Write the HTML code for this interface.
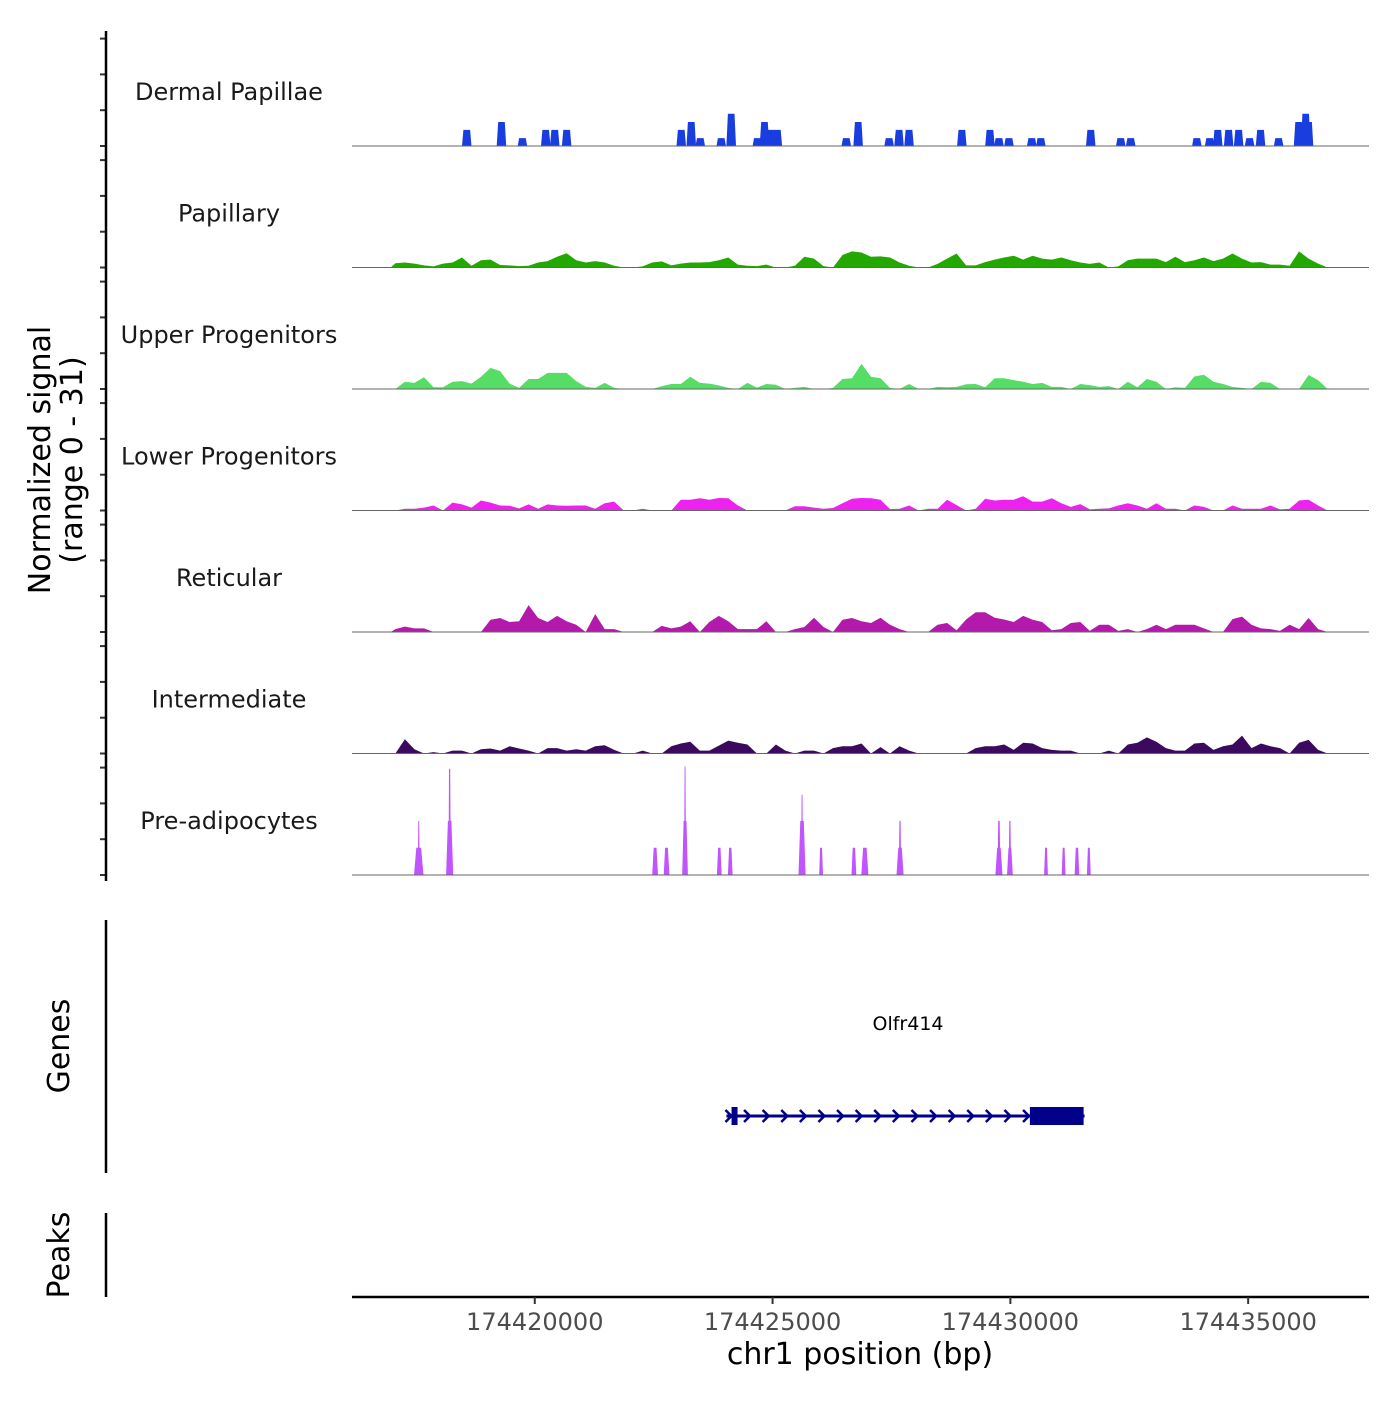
<!DOCTYPE html>
<html><head><meta charset="utf-8"><style>
body{margin:0;background:#fff}
svg text{font-family:"DejaVu Sans","Liberation Sans",sans-serif}
</style></head><body>
<svg id="chart" xmlns="http://www.w3.org/2000/svg" width="1400" height="1400" viewBox="0 0 1400 1400">
<g id="tracks"></g>
<g id="yaxis"></g>
<text transform="translate(50,460) rotate(-90)" text-anchor="middle" font-size="30" fill="#000">Normalized signal</text>
<text transform="translate(82,460) rotate(-90)" text-anchor="middle" font-size="30" fill="#000">(range 0 - 31)</text>
<line x1="106" y1="920" x2="106" y2="1173" stroke="#000" stroke-width="2.5"/>
<text transform="translate(69,1046) rotate(-90)" text-anchor="middle" font-size="30">Genes</text>
<g id="gene"></g>
<text x="908" y="1030" text-anchor="middle" font-size="19">Olfr414</text>
<line x1="106" y1="1213" x2="106" y2="1297" stroke="#000" stroke-width="2.5"/>
<text transform="translate(69,1255) rotate(-90)" text-anchor="middle" font-size="30">Peaks</text>
<line x1="352" y1="1297" x2="1369" y2="1297" stroke="#000" stroke-width="2.5"/>
<g id="xaxis"></g>
<text x="860" y="1364" text-anchor="middle" font-size="30">chr1 position (bp)</text>
</svg>
<script>
const trackNames=["Dermal Papillae","Papillary","Upper Progenitors","Lower Progenitors","Reticular","Intermediate","Pre-adipocytes"];
const trackColors=["#1a3de0","#22a800","#55dd66","#ee22ee","#b31aab","#3b0a5e","#c055ff"];
const binStartKb=174417.07, binStepKb=0.2;
const papillary=[1.2,1.4,1.1,0.6,0.3,1.1,1.4,2.8,0.5,2.0,2.2,0.7,0.6,0.4,0.5,1.4,1.8,3.0,4.0,2.0,1.4,1.8,1.4,0.5,0,0,0.3,1.4,1.7,0.6,1.1,1.4,1.4,1.5,2.0,2.8,0.8,0.5,0.4,0.8,0,0,0.5,3.0,2.5,0.4,0,3.5,4.5,4.2,3.0,3.1,2.8,1.4,0.5,0,0,1.0,2.5,3.9,0.6,0.6,1.5,2.2,2.8,3.3,2.2,3.3,2.5,2.2,2.8,2.0,1.4,1.0,1.4,0,0.3,2.0,2.5,2.5,2.5,1.5,3.0,1.5,2.0,2.8,1.8,2.5,3.9,2.5,1.4,1.5,0.8,0.8,0.5,4.5,2.5,1.1,0];
const upperProg=[0,2.0,1.7,3.3,0.5,0.5,2.0,2.2,1.5,3.4,5.9,5.0,1.5,0.3,2.8,2.8,4.5,4.5,4.5,2.2,0.6,0.3,1.7,0.3,0,0,0,0,0.8,1.4,1.4,3.4,1.7,1.5,1.0,0.3,0,1.7,0.4,1.4,1.2,0,0.3,0.6,0,0,0.3,2.8,3.0,7.0,3.4,3.0,0.3,0,1.4,0,0,0.6,0.5,0.6,1.3,1.4,0.5,3.0,3.0,2.5,2.0,1.4,1.7,0.6,0.6,0,1.4,1.1,0.6,0.8,0,2.0,0.5,2.8,2.0,0,0.5,0.3,3.5,4.0,2.0,1.4,0.6,0.3,0,2.0,1.7,0,0,0,3.9,2.5,0];
const lowerProg=[0,0.5,0.5,0.8,1.4,0,2.2,1.7,0.8,2.8,2.2,1.4,1.3,0.6,1.7,0.5,1.7,1.4,1.3,1.4,1.4,0.5,2.0,2.5,0,0,0.5,0,0,0,3.0,3.0,3.4,3.0,3.5,3.4,1.4,0,0,0,0,0,1.2,1.2,0.8,0.5,0.7,2.0,3.3,3.5,3.4,3.0,0.4,0.5,1.4,0,0.5,0.5,3.0,1.5,0,0.5,3.3,2.8,3.0,3.0,4.0,2.5,2.5,3.4,2.0,1.0,1.8,0.3,0.5,0.6,1.4,2.0,1.4,0.5,2.0,0.5,0.5,0,1.4,1.0,0,0,1.4,0.5,0.5,0.5,1.4,0.3,0.5,2.8,3.0,1.4,0];
const reticular=[0.8,1.5,1.0,1.0,0,0,0,0,0,0,3.4,3.9,2.8,3.0,7.5,3.9,2.8,4.5,3.0,2.0,0,5.0,0.8,0.8,0,0,0,0,1.7,1.0,1.5,3.0,0,2.8,4.5,3.0,0.8,0.8,0.8,3.0,0,0,0.8,1.4,4.0,1.4,0,3.4,3.9,3.0,2.5,4.0,2.0,0.8,0,0,0,2.0,2.5,0.5,3.5,5.5,5.5,4.0,3.5,2.8,4.5,3.4,2.8,0.5,0.8,2.5,2.8,0.3,2.0,2.0,0.3,0.8,0,0.8,2.0,0.8,2.0,2.0,2.0,1.0,0,0,3.6,4.3,2.0,1.0,0.8,0.3,2.0,0.8,3.9,0.8,0];
const intermediate=[0,4.0,1.2,0,0.4,0,0.8,0.8,0,1.2,1.4,0.8,2.0,1.4,0.8,0,1.5,1.5,0.8,1.2,0.8,2.0,2.3,1.0,0,0,0.8,0,0,2.0,2.8,3.3,0.8,0.8,2.2,3.6,3.0,2.5,0,0,2.5,0.8,0,0.8,0.8,0,1.5,2.0,2.0,2.8,0,1.8,0,2.0,0.8,0,0,0,0,0,0,1.5,2.0,2.0,2.5,1.0,3.0,2.8,1.5,1.0,0.8,0.8,0,0,0,0.8,0,2.5,3.0,4.5,3.3,1.5,0.8,0.8,2.8,3.0,1.0,2.0,2.5,5.0,1.5,2.8,2.0,1.5,0,3.0,3.8,1.0,0];
const dermalPos=[174418.57,174419.30,174419.74,174420.23,174420.42,174420.67,174423.08,174423.29,174423.48,174423.92,174424.13,174424.68,174424.83,174424.97,174425.10,174426.55,174426.80,174427.45,174427.66,174427.87,174428.98,174429.57,174429.76,174429.97,174430.45,174430.64,174431.69,174432.32,174432.53,174433.92,174434.19,174434.36,174434.59,174434.80,174435.03,174435.26,174435.64,174436.06,174436.21,174436.27];
const dermalVal=[4.5,6.7,2.2,4.5,4.5,4.5,4.5,6.7,2.2,2.2,9.0,2.2,6.7,4.5,4.5,2.2,6.7,2.2,4.5,4.5,4.5,4.5,2.2,2.2,2.2,2.2,4.5,2.2,2.2,2.2,2.2,4.5,4.5,4.5,2.2,4.5,2.2,6.7,9.0,6.7];
const preadipoPos=[174417.56,174417.56,174418.21,174418.21,174422.53,174422.77,174423.16,174423.16,174423.88,174424.11,174425.62,174425.62,174426.02,174426.71,174426.94,174427.68,174427.68,174429.76,174429.76,174429.99,174429.99,174430.75,174431.12,174431.40,174431.65];
const preadipoVal=[7.6,15.1,15.1,29.7,7.6,7.6,15.1,30.3,7.6,7.6,15.1,22.4,7.6,7.6,7.6,7.6,15.1,7.6,15.1,7.6,15.1,7.6,7.6,7.6,7.6];
const preadipoWidth=[0.2,0.04,0.15,0.05,0.12,0.12,0.12,0.04,0.1,0.1,0.15,0.04,0.08,0.1,0.15,0.15,0.05,0.15,0.06,0.12,0.05,0.08,0.08,0.1,0.08];
const xTicks=[174420000,174425000,174430000,174435000];
const yTickVals=[0,10,20,30];

const NS="http://www.w3.org/2000/svg";
const X0=352,X1=1369,KB0=174416.157,PXKB=237.8/5;
function xs(kb){return X0+(kb-KB0)*PXKB;}
const PXU=3.58;
function base(t){return 146+t*121.5;}
function ys(t,v){return base(t)-v*PXU;}
function mk(tag,attrs,parent){const e=document.createElementNS(NS,tag);for(const k in attrs)e.setAttribute(k,attrs[k]);parent.appendChild(e);return e;}
const G=document.getElementById('tracks'),YA=document.getElementById('yaxis');
const binTracks={1:papillary,2:upperProg,3:lowerProg,4:reticular,5:intermediate};
for(let t=0;t<7;t++){
  const lab=mk('text',{x:229,y:base(t)-46,'text-anchor':'middle','font-size':24,fill:'#1a1a1a'},G);
  lab.textContent=trackNames[t];
  
  
  if(binTracks[t]){
    const vals=binTracks[t];
    let d='M'+xs(binStartKb-binStepKb/2).toFixed(1)+','+base(t);
    vals.forEach((v,i)=>{const kb=binStartKb+i*binStepKb;d+=' L'+xs(kb).toFixed(1)+','+ys(t,v).toFixed(1);});
    d+=' L'+xs(binStartKb+vals.length*binStepKb).toFixed(1)+','+base(t)+' Z';
    const p=mk('path',{d:d,fill:trackColors[t]},G);
    
    
  } else {
    const pos=t===0?dermalPos:preadipoPos, val=t===0?dermalVal:preadipoVal;
    pos.forEach((kb,i)=>{
      const w=(t===0?0.2:preadipoWidth[i])*PXKB, cx=xs(kb), y=ys(t,val[i]), b=base(t);
      const f=t===0?0.35:0.25;
      const pts=[[cx-w/2,b],[cx-w*f,y],[cx+w*f,y],[cx+w/2,b]].map(q=>q[0].toFixed(1)+','+q[1].toFixed(1)).join(' ');
      const p=mk('polygon',{points:pts,fill:trackColors[t]},G);
      
      
    });
  }
  const bl=mk('line',{x1:X0,x2:X1,y1:base(t),y2:base(t),stroke:'#666','stroke-width':1},G);
  
  
  yTickVals.forEach(v=>{
    const tk=mk('line',{x1:100,x2:106,y1:ys(t,v),y2:ys(t,v),stroke:'#333','stroke-width':2},YA);
    
    
  });
}
const ax=mk('line',{x1:106,x2:106,y1:31,y2:881,stroke:'#000','stroke-width':2.5},YA);


const XA=document.getElementById('xaxis');
xTicks.forEach(v=>{
  const x=xs(v/1000);
  const l=mk('line',{x1:x,x2:x,y1:1297,y2:1304,stroke:'#333','stroke-width':2},XA);
  
  
  const tx=mk('text',{x:x,y:1330,'text-anchor':'middle','font-size':24,fill:'#4d4d4d'},XA);
  tx.textContent=String(v);
  
  
});
const GN=document.getElementById('gene');
const geneStart=174424.03, geneEnd=174431.56, cdsStart=174430.41, cdsEnd=174431.54, exon1=174424.20;
const gy=1116,gc='#00008b';
mk('line',{x1:xs(geneStart),x2:xs(geneEnd),y1:gy,y2:gy,stroke:gc,'stroke-width':3},GN);
mk('rect',{x:xs(exon1)-3,y:gy-9,width:6,height:18,fill:gc},GN);
mk('rect',{x:xs(cdsStart),y:gy-9,width:xs(cdsEnd)-xs(cdsStart),height:18,fill:gc},GN);
for(let x=xs(geneStart)+2;x<xs(cdsStart);x+=18.6){
  const a=mk('path',{d:`M${x-3},${gy-6} L${x+3},${gy} L${x-3},${gy+6}`,fill:'none',stroke:gc,'stroke-width':2.5},GN);
  
  
}
</script>
</body></html>
